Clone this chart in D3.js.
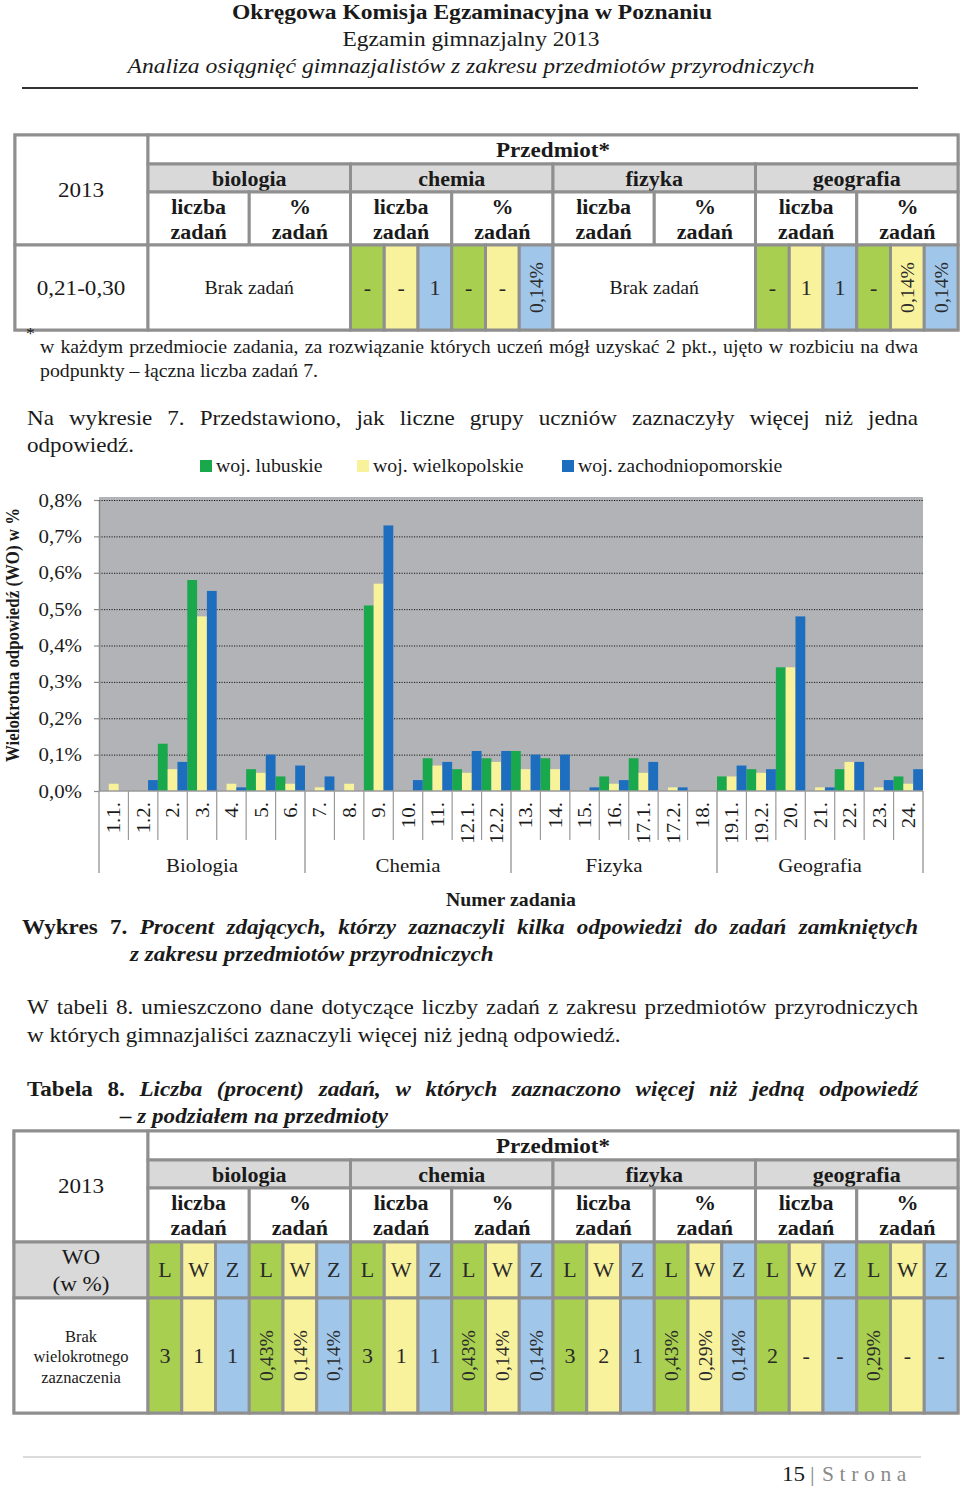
<!DOCTYPE html>
<html><head><meta charset="utf-8">
<script src="https://cdn.jsdelivr.net/npm/d3@7"></script>
<style>body{margin:0;background:#fff}</style>
</head><body><svg id="c" width="960" height="1488"></svg>
<script>
// ---------- DATA ----------
const categories = ["1.1.","1.2.","2.","3.","4.","5.","6.","7.","8.","9.","10.","11.","12.1.","12.2.","13.","14.","15.","16.","17.1.","17.2.","18.","19.1.","19.2.","20.","21.","22.","23.","24."];
const groups = ["Biologia","Chemia","Fizyka","Geografia"];
const seriesNames = ["woj. lubuskie","woj. wielkopolskie","woj. zachodniopomorskie"];
const lubuskie =           [0,0,0.13,0.58,0,0.06,0.04,0,0,0.51,0,0.09,0.06,0.09,0.11,0.09,0,0.04,0.09,0,0,0.04,0.06,0.34,0,0.06,0,0.04];
const wielkopolskie =      [0.02,0,0.06,0.48,0.02,0.05,0.02,0.01,0.02,0.57,0,0.07,0.05,0.08,0.06,0.06,0,0.02,0.05,0.01,0,0.04,0.05,0.34,0.01,0.08,0.01,0.02];
const zachodniopomorskie = [0,0.03,0.08,0.55,0.01,0.10,0.07,0.04,0,0.73,0.03,0.08,0.11,0.11,0.10,0.10,0.01,0.03,0.08,0.01,0,0.07,0.06,0.48,0.01,0.08,0.03,0.06];
const yTicks = [0,0.1,0.2,0.3,0.4,0.5,0.6,0.7,0.8];

const subjects = ["biologia","chemia","fizyka","geografia"];
const tab7Label = "0,21-0,30";
const tab7Biologia = null; // Brak zadań
const tab7Chemia = ["-","-","1","-","-","0,14%"];
const tab7Fizyka = null;   // Brak zadań
const tab7Geografia = ["-","1","1","-","0,14%","0,14%"];
const regionLetters = ["L","W","Z"];
const tab8Biologia = ["3","1","1","0,43%","0,14%","0,14%"];
const tab8Chemia = ["3","1","1","0,43%","0,14%","0,14%"];
const tab8Fizyka = ["3","2","1","0,43%","0,29%","0,14%"];
const tab8Geografia = ["2","-","-","0,29%","-","-"];

// ---------- HELPERS ----------
const SERIF = "'Liberation Serif','Times New Roman',serif";
const SX = 1.1;
const svg = d3.select("#c");
svg.append("rect").attr("width",960).attr("height",1488).attr("fill","#fff");

function place(t, x, y, o) {
  const sx = o.sx || SX;
  t.attr("transform", `translate(${x},${y})${o.rot ? ` rotate(${o.rot})` : ""} scale(${sx},1)`);
}
function txt(g, x, y, s, o={}) {
  const sx = o.sx || SX;
  const t = g.append("text").text(s)
    .attr("font-family", o.ff || SERIF).attr("font-size", o.fs || 20)
    .attr("font-weight", o.fw || 400).attr("font-style", o.it ? "italic" : "normal")
    .attr("text-anchor", o.a || "start").attr("fill", o.fill || "#1a1a1a");
  place(t, x, y, o);
  if (o.dy) t.attr("dy", o.dy);
  if (o.len) t.attr("textLength", o.len / sx).attr("lengthAdjust", "spacingAndGlyphs");
  if (o.ls) t.attr("letter-spacing", o.ls);
  return t;
}
function justify(g, x0, x1, y, parts) {
  const items = [];
  parts.forEach(([s, o]) => s.split(" ").filter(w => w).forEach(w => items.push([w, o])));
  const els = items.map(([w, o]) => txt(g, 0, y, w, o));
  const widths = els.map((e, i) => e.node().getComputedTextLength() * (items[i][1].sx || SX));
  const gap = (x1 - x0 - d3.sum(widths)) / (items.length - 1);
  let cx = x0;
  els.forEach((e, i) => { place(e, cx, y, items[i][1]); cx += widths[i] + gap; });
}

// ---------- PAGE HEADER ----------
const page = svg.append("g");
txt(page, 472, 19, "Okręgowa Komisja Egzaminacyjna w Poznaniu", {fs:22, fw:700, a:"middle", len:480});
txt(page, 471, 46, "Egzamin gimnazjalny 2013", {fs:22, a:"middle", len:257});
txt(page, 471, 73, "Analiza osiągnięć gimnazjalistów z zakresu przedmiotów przyrodniczych", {fs:22, it:true, a:"middle", len:687});
page.append("line").attr("x1",22).attr("x2",918).attr("y1",88).attr("y2",88).attr("stroke","#333").attr("stroke-width",2);

// ---------- TABLE HELPERS ----------
const BORDER = "#8f8f8f", HEAD = "#d9d9d9";
const CELLC = ["#a8cf50", "#f8f29d", "#a0c6ea"];
const TX0 = 148, TX1 = 958, GW = (TX1 - TX0) / 4, SW = GW / 6;
function cell(g, x0, y0, x1, y1, fill) {
  g.append("rect").attr("x", x0).attr("y", y0).attr("width", x1 - x0).attr("height", y1 - y0)
    .attr("fill", fill).attr("stroke", BORDER).attr("stroke-width", 3);
}
function tableHeader(g, left, top, yP, yS, yL, bottomFirst) {
  cell(g, left, top, TX0, bottomFirst, "#fff");
  cell(g, TX0, top, TX1, yP, "#fff");
  txt(g, (TX0 + TX1) / 2, yP - 7, "Przedmiot*", {fs:21, fw:700, a:"middle"});
  subjects.forEach((s, i) => {
    const gx = TX0 + i * GW;
    cell(g, gx, yP, gx + GW, yS, HEAD);
    txt(g, gx + GW / 2, yS - 6, s, {fs:20, fw:700, a:"middle"});
    cell(g, gx, yS, gx + GW / 2, yL, "#fff");
    cell(g, gx + GW / 2, yS, gx + GW, yL, "#fff");
    txt(g, gx + GW / 4, yS + 22, "liczba", {fs:20, fw:700, a:"middle"});
    txt(g, gx + GW / 4, yS + 47, "zadań", {fs:20, fw:700, a:"middle"});
    txt(g, gx + 3 * GW / 4, yS + 22, "%", {fs:20, fw:700, a:"middle"});
    txt(g, gx + 3 * GW / 4, yS + 47, "zadań", {fs:20, fw:700, a:"middle"});
  });
}
function smallCells(g, gi, y0, y1, vals) {
  vals.forEach((v, j) => {
    const x0 = TX0 + gi * GW + j * SW;
    cell(g, x0, y0, x0 + SW, y1, CELLC[j % 3]);
    const cx = x0 + SW / 2, cy = (y0 + y1) / 2;
    if (String(v).includes("%")) txt(g, cx, cy, v, {fs:19, a:"middle", rot:-90, dy:"0.35em", fill:"#2a2a2a", len:51});
    else txt(g, cx, cy, v, {fs:20, a:"middle", dy:"0.35em", fill:"#2a2a2a"});
  });
}

// ---------- TABLE 7 (top) ----------
const t1 = svg.append("g");
t1.append("rect").attr("x",15).attr("y",135).attr("width",943).attr("height",195).attr("fill","#fff").attr("stroke",BORDER).attr("stroke-width",3);
tableHeader(t1, 15, 135, 164, 192, 245, 245);
txt(t1, 81, 197, "2013", {fs:21, a:"middle"});
cell(t1, 15, 245, TX0, 330, "#fff");
txt(t1, 81, 295, tab7Label, {fs:21, a:"middle"});
[tab7Biologia, tab7Chemia, tab7Fizyka, tab7Geografia].forEach((vals, gi) => {
  if (vals) smallCells(t1, gi, 245, 330, vals);
  else {
    cell(t1, TX0 + gi * GW, 245, TX0 + (gi + 1) * GW, 330, "#fff");
    txt(t1, TX0 + gi * GW + GW / 2, 294, "Brak zadań", {fs:19, a:"middle", sx:1.04});
  }
});

// footnote
const fn = svg.append("g");
txt(fn, 26, 339, "*", {fs:16});
justify(fn, 40, 918, 353, [["w każdym przedmiocie zadania, za rozwiązanie których uczeń mógł uzyskać 2 pkt., ujęto w rozbiciu na dwa", {fs:18}]]);
txt(fn, 40, 377, "podpunkty – łączna liczba zadań 7.", {fs:18});

// paragraph
justify(fn, 27, 918, 425, [["Na wykresie 7. Przedstawiono, jak liczne grupy uczniów zaznaczyły więcej niż jedna", {fs:21}]]);
txt(fn, 27, 452, "odpowiedź.", {fs:21});

// ---------- CHART ----------
const ch = svg.append("g");
const PX0 = 99, PX1 = 923;
const x = d3.scaleBand().domain(categories).range([PX0, PX1]).paddingInner(0).paddingOuter(0);
const xs = d3.scaleBand().domain(d3.range(3)).range([0, x.bandwidth()]);
const y = d3.scaleLinear().domain([0, 0.8]).range([791, 500]);
const barC = ["#19a84b", "#f8f39b", "#1e6ec0"];
const series = [lubuskie, wielkopolskie, zachodniopomorskie];

ch.append("rect").attr("x", PX0).attr("y", 497).attr("width", PX1 - PX0).attr("height", y(0) - 497).attr("fill", "#b2b3b6");

// grid
const grid = ch.append("g").attr("transform", `translate(${PX0},0)`)
  .call(d3.axisLeft(y).tickValues(yTicks.slice(1)).tickSize(-(PX1 - PX0)).tickFormat(""));
grid.select(".domain").remove();
grid.selectAll("line").attr("stroke", "#1a1a1a").attr("stroke-width", 1).attr("stroke-dasharray", "1.2,1.3");

// bars
series.forEach((vals, i) => {
  ch.append("g").selectAll("rect").data(categories.map((c, k) => ({c, v: vals[k]}))).join("rect")
    .attr("x", d => x(d.c) + xs(i)).attr("width", xs.bandwidth())
    .attr("y", d => y(d.v)).attr("height", d => y(0) - y(d.v))
    .attr("fill", barC[i]);
});

// y axis
const ya = ch.append("g").attr("transform", `translate(${PX0},0)`)
  .call(d3.axisLeft(y).tickValues(yTicks).tickSize(5).tickSizeOuter(0).tickPadding(12)
    .tickFormat(d => d.toFixed(1).replace(".", ",") + "%"));
ya.select(".domain").attr("stroke", "#8a8a8a").attr("stroke-width", 1.5);
ya.selectAll(".tick line").attr("stroke", "#8a8a8a").attr("stroke-width", 1.2);
ya.selectAll(".tick text").attr("font-family", SERIF).attr("font-size", 19).attr("fill", "#1a1a1a")
  .attr("transform", `scale(${SX},1)`).attr("x", -17 / SX);

// baseline
ch.append("line").attr("x1", PX0).attr("x2", PX1).attr("y1", y(0)).attr("y2", y(0)).attr("stroke", "#9a9a9a").attr("stroke-width", 1.5);

// category separators & labels
const bw = x.bandwidth();
d3.range(categories.length + 1).forEach(i => {
  const xx = PX0 + i * bw;
  const major = i % 7 === 0;
  ch.append("line").attr("x1", xx).attr("x2", xx).attr("y1", y(0)).attr("y2", major ? 873 : 840)
    .attr("stroke", "#9a9a9a").attr("stroke-width", major ? 1.4 : 1.2);
});
categories.forEach(c => {
  txt(ch, x(c) + bw / 2, 802, c, {fs:19, a:"end", rot:-90, dy:"0.35em"});
});
groups.forEach((gname, i) => {
  const c0 = x(categories[i * 7]);
  txt(ch, c0 + 3.5 * bw, 872, gname, {fs:19, a:"middle"});
});
txt(ch, 511, 906, "Numer zadania", {fs:18, fw:700, a:"middle"});
txt(ch, 13, 635, "Wielokrotna odpowiedź (WO) w %", {fs:18, fw:700, a:"middle", rot:-90, dy:"0.35em", len:254});

// legend
const legX = [200, 357, 562];
seriesNames.forEach((s, i) => {
  ch.append("rect").attr("x", legX[i]).attr("y", 460).attr("width", 12).attr("height", 12).attr("fill", barC[i]);
  txt(ch, legX[i] + 16, 472, s, {fs:18});
});

// caption & paragraph
const cap = svg.append("g");
justify(cap, 22, 918, 934, [["Wykres 7.", {fs:21, fw:700}], ["Procent zdających, którzy zaznaczyli kilka odpowiedzi do zadań zamkniętych", {fs:21, fw:700, it:true}]]);
txt(cap, 130, 961, "z zakresu przedmiotów przyrodniczych", {fs:21, fw:700, it:true});
justify(cap, 27, 918, 1014, [["W tabeli 8. umieszczono dane dotyczące liczby zadań z zakresu przedmiotów przyrodniczych", {fs:21}]]);
txt(cap, 27, 1042, "w których gimnazjaliści zaznaczyli więcej niż jedną odpowiedź.", {fs:21});
justify(cap, 27, 918, 1096, [["Tabela 8.", {fs:21, fw:700}], ["Liczba (procent) zadań, w których zaznaczono więcej niż jedną odpowiedź", {fs:21, fw:700, it:true}]]);
txt(cap, 120, 1123, "– z podziałem na przedmioty", {fs:21, fw:700, it:true});

// ---------- TABLE 8 (bottom) ----------
const t2 = svg.append("g");
t2.append("rect").attr("x",14).attr("y",1131).attr("width",944).attr("height",282).attr("fill","#fff").attr("stroke",BORDER).attr("stroke-width",3);
tableHeader(t2, 14, 1131, 1160, 1188, 1242, 1242);
txt(t2, 81, 1193, "2013", {fs:21, a:"middle"});
cell(t2, 14, 1242, TX0, 1298, HEAD);
txt(t2, 81, 1264, "WO", {fs:21, a:"middle"});
txt(t2, 81, 1291, "(w %)", {fs:21, a:"middle"});
subjects.forEach((s, gi) => {
  smallCells(t2, gi, 1242, 1298, [...regionLetters, ...regionLetters]);
});
cell(t2, 14, 1298, TX0, 1413, "#fff");
txt(t2, 81, 1342, "Brak", {fs:17, a:"middle", sx:0.97});
txt(t2, 81, 1362, "wielokrotnego", {fs:17, a:"middle", sx:0.97});
txt(t2, 81, 1383, "zaznaczenia", {fs:17, a:"middle", sx:0.97});
[tab8Biologia, tab8Chemia, tab8Fizyka, tab8Geografia].forEach((vals, gi) => smallCells(t2, gi, 1298, 1413, vals));

// ---------- FOOTER ----------
const ft = svg.append("g");
ft.append("line").attr("x1", 23).attr("x2", 921).attr("y1", 1457).attr("y2", 1457).attr("stroke", "#cfcfcf").attr("stroke-width", 1.5);
txt(ft, 782, 1481, "15", {fs:21});
txt(ft, 810, 1481, "|", {fs:21, fill:"#8a8a8a"});
txt(ft, 822, 1481, "Strona", {fs:21, fill:"#8a8a8a", ls:5.5, len:90});
</script></body></html>
